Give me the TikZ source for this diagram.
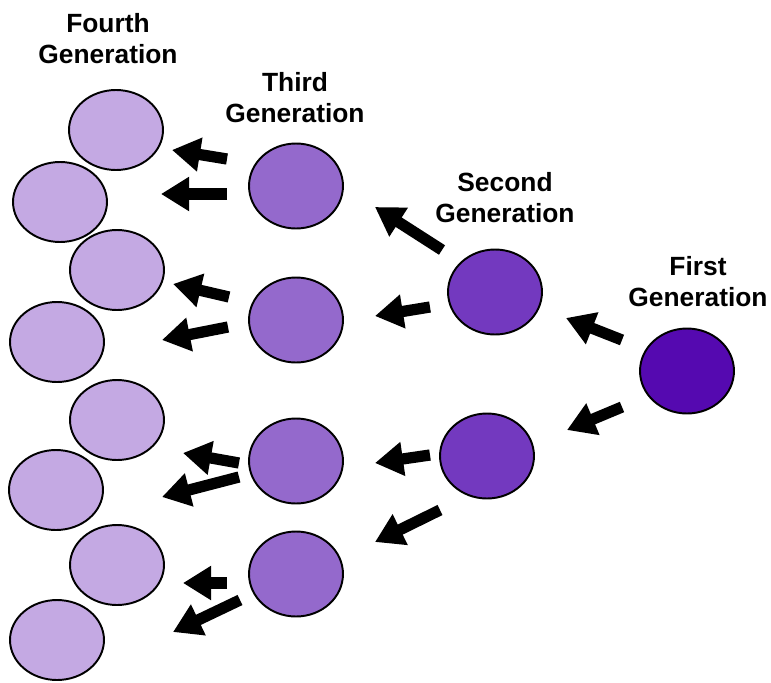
\documentclass[tikz,border=0pt]{standalone}
\usepackage{fontspec}
\setmainfont{Liberation Sans}
\usetikzlibrary{arrows.meta,shapes.geometric}

\definecolor{genfirst}{HTML}{5509B0}
\definecolor{gensecond}{HTML}{7339BF}
\definecolor{genthird}{HTML}{9469CC}
\definecolor{genfourth}{HTML}{C4A9E3}

\begin{document}
\begin{tikzpicture}[x=0.02cm, y=-0.02cm]
    \tikzstyle{every node}=[align=center];
    \tikzstyle{member} = [draw, ellipse, line width=1.1pt, inner sep=0pt, minimum width=1.88cm, minimum height=1.7cm]
    \tikzstyle{genlabel} = [font=\bfseries\fontsize{15}{17.6}\selectfont]
    \tikzstyle{push} = [line width=6.4pt, -{Triangle[length=16pt, width=18.5pt]}]

    \useasboundingbox (0,0) rectangle (771,683);

    % generations, oldest on the right
    \node[member, fill=genfirst] (first) at (687,371) {};

    \node[member, fill=gensecond] (second1) at (495,292) {};
    \node[member, fill=gensecond] (second2) at (487,456) {};

    \node[member, fill=genthird] (third1) at (296,186) {};
    \node[member, fill=genthird] (third2) at (296,320) {};
    \node[member, fill=genthird] (third3) at (296,461) {};
    \node[member, fill=genthird] (third4) at (296,574) {};

    \node[member, fill=genfourth, minimum height=1.6cm] (fourth1) at (116,130) {};
    \node[member, fill=genfourth, minimum height=1.6cm] (fourth2) at (60,202) {};
    \node[member, fill=genfourth, minimum height=1.6cm] (fourth3) at (117,270) {};
    \node[member, fill=genfourth, minimum height=1.6cm] (fourth4) at (57,342) {};
    \node[member, fill=genfourth, minimum height=1.6cm] (fourth5) at (117,420) {};
    \node[member, fill=genfourth, minimum height=1.6cm] (fourth6) at (56,490) {};
    \node[member, fill=genfourth, minimum height=1.6cm] (fourth7) at (117,565) {};
    \node[member, fill=genfourth, minimum height=1.6cm] (fourth8) at (57,640) {};

    \node[genlabel] (firstlabel) at (698,282) {First \\ Generation};
    \node[genlabel] (secondlabel) at (505,198) {Second \\ Generation};
    \node[genlabel] (thirdlabel) at (295,98) {Third \\ Generation};
    \node[genlabel] (fourthlabel) at (108,39) {Fourth \\ Generation};

    \draw[push] ([shift={(-65,-31)}]first.center) -- ([shift={(71,26)}]second1.center);
    \draw[push] ([shift={(-65,36)}]first.center) -- ([shift={(80,-26)}]second2.center);

    \draw[push] ([shift={(-53,-42)}]second1.center) -- ([shift={(79,21)}]third1.center);
    \draw[push] ([shift={(-65,15)}]second1.center) -- ([shift={(79,-4)}]third2.center);
    \draw[push] ([shift={(-57,-1)}]second2.center) -- ([shift={(79,2)}]third3.center);
    \draw[push] ([shift={(-47,54)}]second2.center) -- ([shift={(79,-32)}]third4.center);

    \draw[push] ([shift={(-69,-27)}]third1.center) -- ([shift={(56,20)}]fourth1.center);
    \draw[push] ([shift={(-69,8)}]third1.center) -- ([shift={(101,-8)}]fourth2.center);
    \draw[push] ([shift={(-67,-23)}]third2.center) -- ([shift={(56,14)}]fourth3.center);
    \draw[push] ([shift={(-68,7)}]third2.center) -- ([shift={(105,-2)}]fourth4.center);
    \draw[push] ([shift={(-57,2)}]third3.center) -- ([shift={(66,33)}]fourth5.center);
    \draw[push] ([shift={(-57,16)}]third3.center) -- ([shift={(106,7)}]fourth6.center);
    \draw[push] ([shift={(-69,9)}]third4.center) -- ([shift={(66,18)}]fourth7.center);
    \draw[push] ([shift={(-56,26)}]third4.center) -- ([shift={(116,-8)}]fourth8.center);

\end{tikzpicture}
\end{document}
